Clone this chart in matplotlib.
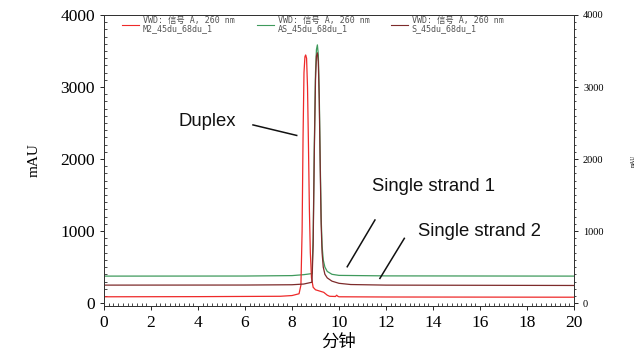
import numpy as np
import matplotlib.pyplot as plt
from matplotlib.ticker import MultipleLocator
from matplotlib.lines import Line2D

# retention time (min) / absorbance (mAU)
m2_t = [0, 4.0, 7.5, 8.0, 8.3, 8.38, 8.43, 8.47, 8.51, 8.55, 8.58, 8.62, 8.66, 8.70, 8.74,
        8.78, 8.83, 8.90, 9.0, 9.2, 9.35, 9.5, 9.6, 9.85, 9.9, 9.95, 10.0, 12.0, 20.0]
m2_y = [88, 90, 95, 105, 130, 250, 1000, 2300, 3200, 3420, 3445, 3400, 3000, 2200, 1300,
        700, 350, 220, 185, 165, 150, 110, 95, 92, 110, 95, 88, 85, 82]

as_t = [0, 6.0, 8.0, 8.5, 8.85, 8.90, 8.95, 9.0, 9.04, 9.08, 9.12, 9.16, 9.20, 9.24,
        9.28, 9.33, 9.4, 9.5, 9.7, 10.0, 12.0, 20.0]
as_y = [375, 376, 382, 395, 410, 900, 2200, 3200, 3520, 3585, 3450, 2900, 2000, 1200,
        800, 600, 500, 440, 400, 385, 378, 375]

s_t = [0, 6.0, 8.0, 8.5, 8.85, 8.90, 8.95, 9.0, 9.04, 9.08, 9.12, 9.16, 9.20, 9.24,
       9.28, 9.33, 9.4, 9.5, 9.7, 10.0, 10.5, 12.0, 20.0]
s_y = [250, 251, 255, 265, 290, 800, 2100, 3100, 3430, 3475, 3350, 2800, 1900, 1100,
       700, 500, 400, 350, 305, 275, 258, 250, 245]

legend_hdr = 'VWD: 信号 A, 260 nm'
legend_names = ['M2_45du_68du_1', 'AS_45du_68du_1', 'S_45du_68du_1']
colors = ['#ee2a2a', '#3f9a5c', '#7d2b2b']

serif = 'Liberation Serif'

fig = plt.figure(figsize=(6.43, 3.56), dpi=100)
ax = fig.add_axes([104 / 643, 1 - 306 / 356, 470 / 643, 291 / 356])

ax.plot(m2_t, m2_y, color=colors[0], lw=0.9, zorder=3)
ax.plot(as_t, as_y, color=colors[1], lw=0.9, zorder=2)
ax.plot(s_t, s_y, color=colors[2], lw=0.9, zorder=4)

ax.set_xlim(0, 20)
ax.set_ylim(-40, 4000)
ax.xaxis.set_major_locator(MultipleLocator(2))
ax.xaxis.set_minor_locator(MultipleLocator(0.2))
ax.yaxis.set_major_locator(MultipleLocator(1000))
ax.yaxis.set_minor_locator(MultipleLocator(100))
ax.tick_params(which='major', direction='out', length=3, width=0.6, labelsize=12.5,
               right=False, top=False)
ax.tick_params(which='minor', direction='in', length=2, width=0.5, right=False, top=False)
for lab in ax.get_xticklabels() + ax.get_yticklabels():
    lab.set_fontfamily(serif)
for sp in ax.spines.values():
    sp.set_linewidth(0.7)
    sp.set_color('#333333')

ax.set_ylabel('mAU', fontfamily=serif, fontsize=11, labelpad=14)
ax.set_xlabel('分钟', fontfamily=['Noto Sans CJK SC'], fontsize=12.5, labelpad=1)

ax2 = ax.twinx()
ax2.set_ylim(-40, 4000)
ax2.yaxis.set_major_locator(MultipleLocator(1000))
ax2.yaxis.set_minor_locator(MultipleLocator(100))
ax2.tick_params(which='major', direction='out', length=3, width=0.6, labelsize=7.5)
ax2.tick_params(which='minor', direction='out', length=1.5, width=0.5)
for lab in ax2.get_yticklabels():
    lab.set_fontfamily(serif)
ax2.set_ylabel('mAU', fontfamily=serif, fontsize=4, labelpad=20)
for sp in ax2.spines.values():
    sp.set_linewidth(0.7)
    sp.set_color('#333333')

# hand-made legend across the top
leg_x = [0.038, 0.325, 0.61]
for x0, name, c in zip(leg_x, legend_names, colors):
    ax.add_line(Line2D([x0, x0 + 0.036], [0.967, 0.967], transform=ax.transAxes,
                       color=c, lw=0.8))
    ax.text(x0 + 0.045, 0.967, legend_hdr + '\n' + name, transform=ax.transAxes,
            fontsize=6.0, family=['DejaVu Sans Mono', 'Noto Sans CJK SC'],
            color='#555555', va='center', ha='left', linespacing=1.0)

# annotations
ax.text(3.15, 2516, 'Duplex', fontsize=13.3, family='Liberation Sans', color='#111111',
        va='center', ha='left')
ax.plot([6.34, 8.2], [2474, 2328], color='#111111', lw=1.1)
ax.text(11.39, 1617, 'Single strand 1', fontsize=13.3, family='Liberation Sans',
        color='#111111', va='center', ha='left')
ax.plot([11.53, 10.35], [1154, 505], color='#111111', lw=1.1)
ax.text(13.37, 991, 'Single strand 2', fontsize=13.3, family='Liberation Sans',
        color='#111111', va='center', ha='left')
ax.plot([12.78, 11.74], [899, 343], color='#111111', lw=1.1)

fig.savefig('out.png', dpi=100)
